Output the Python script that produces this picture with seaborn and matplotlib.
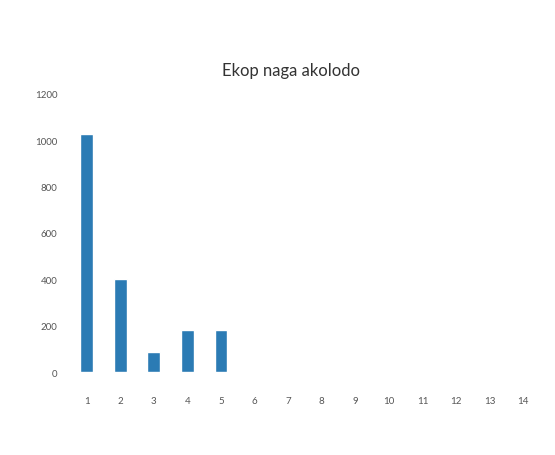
import matplotlib
matplotlib.use("Agg")
import matplotlib.pyplot as plt
import seaborn as sns
import pandas as pd

# Chart data
categories = [str(i) for i in range(1, 15)]
values = [1025, 400, 88, 182, 180, 0, 0, 0, 0, 0, 0, 0, 0, 0]
y_ticks = [0, 200, 400, 600, 800, 1000, 1200]
title = "Ekop naga akolodo"

sns.set_theme(style="white")
plt.rcParams["font.family"] = ["Lato", "DejaVu Sans"]

df = pd.DataFrame({"category": categories, "value": values})

fig = plt.figure(figsize=(5.55, 4.56), dpi=100)
ax = fig.add_axes([0.126, 0.182, 0.847, 0.610])

sns.barplot(data=df, x="category", y="value", order=categories,
            color="#2b7bb4", saturation=1, width=0.38, ax=ax)

ax.set_xlim(-0.5, len(categories) - 0.5)
ax.set_ylim(0, 1200)
ax.set_yticks(y_ticks)
ax.set_yticklabels([str(v) for v in y_ticks])
ax.set_xlabel("")
ax.set_ylabel("")
for s in ax.spines.values():
    s.set_visible(False)
ax.tick_params(axis="both", length=0, labelsize=7, labelcolor="#555555")
ax.tick_params(axis="y", pad=9)
ax.tick_params(axis="x", pad=17)

fig.text(0.525, 0.845, title, ha="center", va="center", fontsize=12, color="#333333")

fig.savefig("out.png", dpi=100, facecolor="white")
